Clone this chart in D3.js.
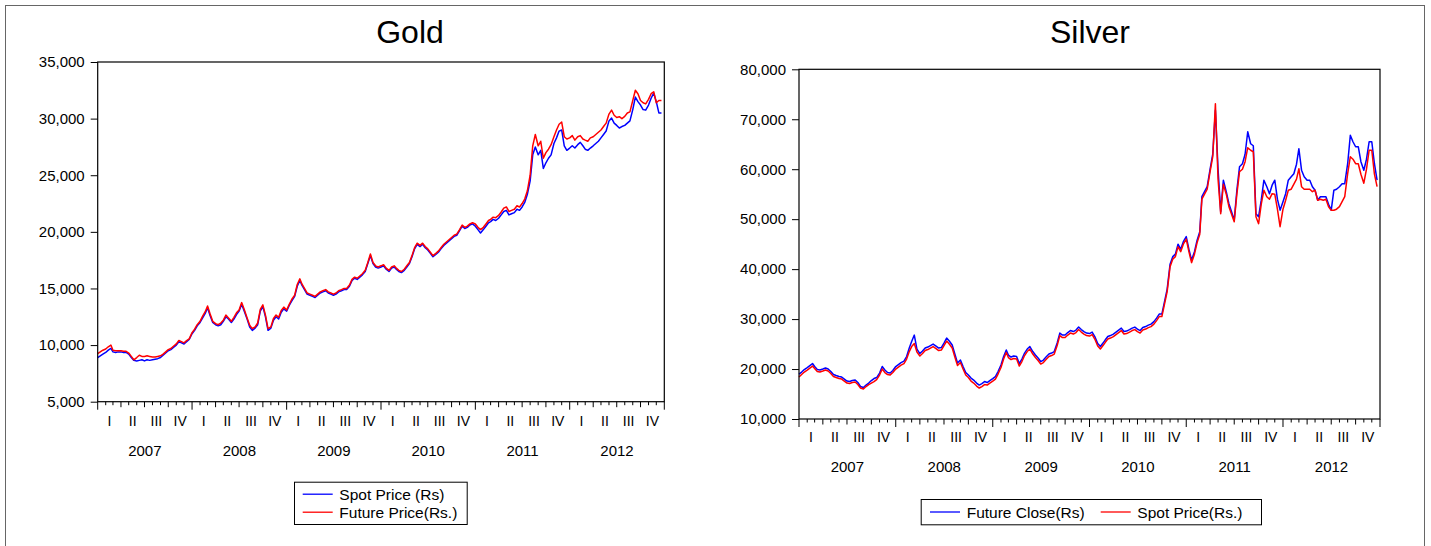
<!DOCTYPE html>
<html>
<head>
<meta charset="utf-8">
<script src="https://cdn.jsdelivr.net/npm/d3@7"></script>
<style>
  body { margin: 0; background: #fff; }
  svg { display: block; }
  text { font-family: "Liberation Sans", Arial, sans-serif; fill: #000; }
</style>
</head>
<body>
<svg id="chart" width="1431" height="546"></svg>
<script>
// Observations are sampled on the 1st, 11th and 21st of every month, Jan 2007 – Dec 2012.
const years = [2007, 2008, 2009, 2010, 2011, 2012];
const sampleDays = [1, 11, 21];
const quarterNames = ["I", "II", "III", "IV"];

// Gold, Rs per 10 g
const goldSpot = [
  8900, 9050, 9200, 9350, 9550, 9700, 9400, 9350, 9400, 9400, 9350, 9350,
  9200, 8900, 8650, 8600, 8650, 8700, 8600, 8700, 8650, 8700, 8750, 8800,
  8900, 9100, 9300, 9500, 9600, 9800, 10000, 10300, 10200, 10100, 10300, 10500,
  11000, 11300, 11700, 12000, 12400, 12800, 13300, 12600, 12000, 11800, 11700, 11800,
  12100, 12500, 12300, 12000, 12300, 12700, 13000, 13600, 13000, 12300, 11600, 11300,
  11500, 11800, 13000, 13400, 12500, 11300, 11500, 12200, 12500, 12300, 12900, 13200,
  13000, 13500, 13900, 14300, 15200, 15700, 15300, 14900, 14500, 14400, 14300, 14200,
  14400, 14600, 14700, 14800, 14600, 14500, 14400, 14500, 14700, 14800, 14900, 14900,
  15200, 15700, 15900, 15800, 16000, 16200, 16500, 17200, 17900, 17200, 16900, 16800,
  16900, 17000, 16700, 16500, 16800, 16900, 16700, 16500, 16400, 16600, 16900, 17200,
  17800, 18500, 18900, 18700, 18900, 18600, 18400, 18100, 17800, 18000, 18200, 18500,
  18800, 19000, 19200, 19400, 19600, 19700, 20100, 20500, 20300, 20400, 20600, 20700,
  20500, 20200, 19900, 20200, 20500, 20800, 20900, 21100, 21000, 21200, 21500, 21800,
  21900, 21500, 21600, 21700, 22000, 21900, 22200, 22600, 23300, 24500, 26800, 27500,
  26800, 27200, 25600, 26100, 26500, 26800, 27800, 28300, 28900, 29000, 27600, 27200,
  27400, 27600, 27400, 27700, 27900, 27600, 27300, 27200, 27400, 27600, 27800, 28000,
  28300, 28600, 28900, 29800, 30050, 29600, 29400, 29170, 29300, 29400, 29600, 29800,
  30800, 31900, 31500, 31200, 30800, 30750, 31200, 31800, 32250, 31500, 30500, 30500
];
const goldFuture = [
  9250, 9400, 9550, 9650, 9850, 10000, 9550, 9500, 9500, 9500, 9450, 9450,
  9300, 9000, 8700, 8900, 9100, 9000, 9000, 9050, 9000, 8950, 8950, 9000,
  9050, 9200, 9400, 9600, 9700, 9900, 10100, 10400, 10300, 10200, 10400, 10550,
  11100, 11400, 11800, 12100, 12550, 12950, 13450, 12750, 12100, 11900, 11800, 11950,
  12200, 12650, 12400, 12100, 12450, 12850, 13100, 13750, 13150, 12400, 11750, 11450,
  11600, 11950, 13150, 13550, 12650, 11450, 11600, 12350, 12650, 12450, 13050, 13350,
  13100, 13600, 14050, 14400, 15350, 15850, 15400, 15000, 14600, 14500, 14400, 14300,
  14500, 14700, 14800, 14900, 14700, 14600, 14500, 14600, 14800, 14900, 15000, 15000,
  15300, 15800, 16000, 15900, 16100, 16300, 16600, 17300, 18050, 17300, 17000, 16900,
  17000, 17100, 16800, 16600, 16900, 17000, 16800, 16600, 16500, 16700, 17000, 17300,
  17900, 18600, 19000, 18800, 19000, 18700, 18500, 18200, 17900, 18100, 18300, 18600,
  18900, 19100, 19300, 19500, 19700, 19800, 20200, 20600, 20400, 20500, 20700, 20800,
  20700, 20400, 20200, 20400, 20700, 21000, 21100, 21300, 21250, 21450, 21750, 22100,
  22200, 21800, 21900, 22000, 22300, 22200, 22500, 22900, 23600, 25000, 27600, 28600,
  27600, 28000, 26500, 27000, 27300, 27700, 28400, 29000, 29500, 29700, 28400, 28200,
  28300, 28500, 28100, 28400, 28500, 28200, 28100, 28000, 28300, 28400, 28600, 28800,
  29000, 29300, 29600, 30400, 30750, 30300, 30100, 30170, 30000, 30200, 30500, 30600,
  31600, 32500, 32200, 31600, 31400, 31300, 31700, 32200, 32370, 31400, 31600, 31600
];

// Silver, Rs per kg
const silverFuture = [
  19000, 19400, 19900, 20300, 20700, 21100, 20500, 19900, 19800, 20000, 20200, 20000,
  19500, 18900, 18700, 18500, 18400, 18000, 17600, 17500, 17700, 17800, 17300, 16500,
  16300, 16800, 17200, 17700, 18100, 18300, 19200, 20500, 19800, 19300, 19200, 19700,
  20500, 20900, 21300, 21600, 22500, 24200, 25500, 26800, 24000, 23100, 23600, 24200,
  24400, 24700, 25000, 24600, 24200, 24300, 25200, 26200, 25600, 24800, 23000, 21200,
  21800, 20500, 19300, 18800, 18200, 17800, 17200, 16800, 17100, 17500, 17300, 17700,
  18100, 18500, 19500, 20800, 22500, 23800, 22800, 22400, 22600, 22500, 21100, 22000,
  23200, 24000, 24500, 23500, 22800, 22200, 21500, 21800, 22400, 23000, 23200, 23500,
  25200, 27200, 26800, 26800, 27300, 27700, 27500, 27800, 28400, 27900, 27500, 27200,
  27100, 27400, 26500, 25100, 24500, 25200, 25800, 26500, 26700, 27000, 27400, 27800,
  28200, 27500, 27600, 27900, 28200, 28400, 28000, 27700, 28300, 28500, 28800, 29000,
  29500, 30200, 31000, 31000, 33500, 36000, 41000, 42500, 43000, 45000, 44000, 45500,
  46500, 44000, 41800, 43500, 45800, 47500, 54500, 55500, 56500, 60000, 63000, 71800,
  60000, 51500, 57800, 55500, 53100, 51500, 49800, 55800, 60500, 61100, 63000, 67500,
  65100, 64700, 51100, 50500, 53800, 57800, 56500, 55100, 56800, 57800, 54000, 51800,
  53500, 55100, 57800, 58500, 59100, 61000, 64100, 59800, 58500, 57800, 57800, 56500,
  55800, 53800, 54500, 54500, 54500, 53000, 51800, 55800, 56000, 56500, 57100, 57100,
  61100, 66800, 65500, 64500, 64500, 61500, 59800, 62000, 65500, 65500, 61100, 57800
];
const silverSpot = [
  18400, 18900, 19400, 19800, 20200, 20600, 20100, 19500, 19400, 19600, 19800, 19600,
  19100, 18500, 18300, 18100, 18000, 17600, 17200, 17100, 17300, 17400, 16900, 16200,
  16000, 16500, 16900, 17200, 17500, 17900, 18800, 20000, 19300, 18900, 18800, 19300,
  20000, 20400, 20800, 21100, 22000, 23500, 24500, 25100, 23400, 22600, 23100, 23700,
  23900, 24200, 24500, 24100, 23700, 23800, 24700, 25600, 25000, 24200, 22400, 20700,
  21300, 20000, 18800, 18300, 17600, 17200, 16600, 16200, 16500, 16900, 16800, 17200,
  17600, 18000, 19000, 20300, 22000, 23300, 22300, 21900, 22100, 22000, 20600, 21500,
  22700, 23500, 24000, 23000, 22300, 21700, 21000, 21300, 21900, 22500, 22700, 23000,
  24700, 26700, 26300, 26300, 26800, 27200, 27000, 27300, 27900, 27400, 27000, 26700,
  26600, 26900, 26000, 24600, 24000, 24700, 25300, 26000, 26200, 26500, 26900, 27300,
  27700, 27000, 27100, 27400, 27700, 27900, 27500, 27200, 27800, 28000, 28300, 28500,
  29000, 29700, 30500, 30500, 33000, 35500, 40500, 42000, 42500, 44500, 43500, 45000,
  46000, 43500, 41300, 43000, 45300, 47000, 54000, 55000, 56000, 59500, 62500, 73100,
  58000, 51100, 57000, 55000, 52500, 51000, 49500, 55000, 59500, 60000, 61500, 64300,
  63800, 63500, 50500, 49100, 53000, 55800, 54500, 54000, 55100, 55000, 52000, 48500,
  52000, 53800, 55800, 56000, 57000, 58000, 60100, 56500, 56000, 56000, 56000, 55500,
  55800, 53800, 54000, 53800, 54000, 52500, 51800, 51800, 52000, 52500, 53500, 54500,
  59100, 62500, 62000, 61100, 61100, 59000, 57200, 60000, 63800, 63800, 59000, 56500
];

const goldTicks = [5000, 10000, 15000, 20000, 25000, 30000, 35000];
const silverTicks = [10000, 20000, 30000, 40000, 50000, 60000, 70000, 80000];

const BLUE = "#0000ff", RED = "#ff0000";

const dates = [];
years.forEach(yr => d3.range(12).forEach(m => sampleDays.forEach(d => dates.push(new Date(yr, m, d)))));

const svg = d3.select("#chart");

// outer frame
svg.append("rect")
  .attr("x", 5.5).attr("y", 5.5).attr("width", 1419).attr("height", 580)
  .attr("fill", "none").attr("stroke", "#666").attr("stroke-width", 1);

const panels = [
  {
    title: "Gold", titleX: 410,
    left: 97.7, right: 664.3, top: 62, bottom: 401.7,
    domain: [5000, 35000], ticks: goldTicks,
    qOffset: 24.5, yrOffset: 54,
    series: [
      { name: "Spot Price (Rs)", values: goldSpot, color: BLUE },
      { name: "Future Price(Rs.)", values: goldFuture, color: RED }
    ],
    legend: { x: 294, y: 481.7, w: 172.7, h: 42.3, layout: "vertical" }
  },
  {
    title: "Silver", titleX: 1090,
    left: 799, right: 1380, top: 69.3, bottom: 419,
    domain: [10000, 80000], ticks: silverTicks,
    qOffset: 23, yrOffset: 53,
    series: [
      { name: "Future Close(Rs)", values: silverFuture, color: BLUE },
      { name: "Spot Price(Rs.)", values: silverSpot, color: RED }
    ],
    legend: { x: 920.7, y: 499, w: 340.3, h: 25.3, layout: "horizontal" }
  }
];

panels.forEach(p => {
  const x = d3.scaleTime()
    .domain([new Date(years[0], 0, 1), new Date(years[years.length - 1] + 1, 0, 1)])
    .range([p.left, p.right]);
  const y = d3.scaleLinear().domain(p.domain).range([p.bottom, p.top]);

  const g = svg.append("g");

  // title
  g.append("text")
    .attr("x", p.titleX).attr("y", 43)
    .attr("text-anchor", "middle")
    .style("font-size", "32px")
    .text(p.title);

  // series
  const line = d3.line()
    .defined(v => v != null)
    .x((v, i) => x(dates[i]))
    .y(v => y(v));
  p.series.forEach(s => {
    g.append("path")
      .datum(s.values)
      .attr("fill", "none")
      .attr("stroke", s.color)
      .attr("stroke-width", 1.5)
      .attr("stroke-linejoin", "round")
      .attr("d", line);
  });

  // plot frame
  g.append("rect")
    .attr("x", p.left).attr("y", p.top)
    .attr("width", p.right - p.left).attr("height", p.bottom - p.top)
    .attr("fill", "none").attr("stroke", "#000").attr("stroke-width", 1.2);

  // y axis
  const yAxis = d3.axisLeft(y)
    .tickValues(p.ticks)
    .tickFormat(d3.format(","))
    .tickSize(7)
    .tickPadding(6);
  const ya = g.append("g").attr("transform", `translate(${p.left},0)`).call(yAxis);
  ya.select(".domain").remove();
  ya.selectAll("text").style("font-size", "15px").attr("fill", "#000");
  ya.selectAll("line").attr("stroke", "#000");

  // x axis: monthly ticks, longer at quarters, longest at years
  const months = d3.timeMonth.range(x.domain()[0], d3.timeDay.offset(x.domain()[1], 1));
  g.append("g").selectAll("line")
    .data(months)
    .join("line")
    .attr("x1", d => x(d)).attr("x2", d => x(d))
    .attr("y1", p.bottom)
    .attr("y2", d => p.bottom + (d.getMonth() === 0 ? 8 : d.getMonth() % 3 === 0 ? 5.5 : 3.5))
    .attr("stroke", "#000").attr("stroke-width", 1);

  const quarters = [];
  years.forEach(yr => quarterNames.forEach((q, qi) => quarters.push({
    label: q,
    mid: (x(new Date(yr, qi * 3, 1)) + x(new Date(yr, qi * 3 + 3, 1))) / 2
  })));
  g.append("g").selectAll("text")
    .data(quarters)
    .join("text")
    .attr("x", d => d.mid).attr("y", p.bottom + p.qOffset)
    .attr("text-anchor", "middle")
    .style("font-size", "14px")
    .text(d => d.label);

  g.append("g").selectAll("text")
    .data(years)
    .join("text")
    .attr("x", yr => (x(new Date(yr, 0, 1)) + x(new Date(yr + 1, 0, 1))) / 2)
    .attr("y", p.bottom + p.yrOffset)
    .attr("text-anchor", "middle")
    .style("font-size", "15px")
    .text(yr => yr);

  // legend
  const L = p.legend;
  const lg = g.append("g");
  lg.append("rect")
    .attr("x", L.x + 0.5).attr("y", L.y + 0.5).attr("width", L.w).attr("height", L.h)
    .attr("fill", "#fff").attr("stroke", "#000").attr("stroke-width", 1);
  if (L.layout === "vertical") {
    p.series.forEach((s, i) => {
      const cy = L.y + 12.5 + i * 18;
      lg.append("line").attr("x1", L.x + 8.7).attr("x2", L.x + 38.7)
        .attr("y1", cy).attr("y2", cy).attr("stroke", s.color).attr("stroke-width", 1.3);
      lg.append("text").attr("x", L.x + 45.3).attr("y", cy + 5.5)
        .style("font-size", "15.5px").text(s.name);
    });
  } else {
    const cy = L.y + 13;
    const offsets = [[9.3, 46], [180, 216.6]];
    p.series.forEach((s, i) => {
      lg.append("line").attr("x1", L.x + offsets[i][0]).attr("x2", L.x + offsets[i][0] + 30)
        .attr("y1", cy).attr("y2", cy).attr("stroke", s.color).attr("stroke-width", 1.3);
      lg.append("text").attr("x", L.x + offsets[i][1]).attr("y", cy + 5.5)
        .style("font-size", "15.5px").text(s.name);
    });
  }
});
</script>
</body>
</html>
